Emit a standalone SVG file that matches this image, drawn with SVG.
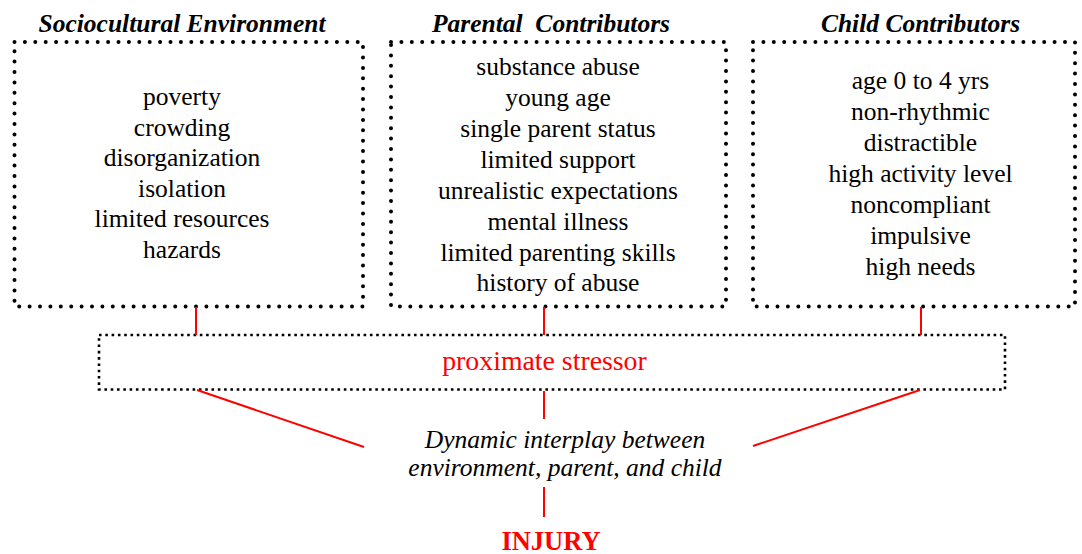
<svg xmlns="http://www.w3.org/2000/svg" width="1082" height="554" viewBox="0 0 1082 554">
<style>
.big{fill:none;stroke:#000;stroke-width:4;stroke-dasharray:0 10.4;stroke-linecap:round}
.small{fill:none;stroke:#000;stroke-width:2.6;stroke-dasharray:2.6 3.7}
.hd{font-family:"Liberation Serif","Times New Roman",serif;font-weight:bold;font-style:italic;font-size:25.5px;text-anchor:middle;fill:#000}
.bd{font-family:"Liberation Serif","Times New Roman",serif;font-size:25.5px;text-anchor:middle;fill:#000}
.con{stroke:#f00;stroke-width:2;fill:none}
</style>
<rect width="1082" height="554" fill="#fff"/>
<g id="socio">
<text class="hd" x="182" y="32">Sociocultural Environment</text>
<rect class="big" x="14.5" y="42" width="348.5" height="264.5"/>
<text class="bd" x="182" y="105">poverty</text>
<text class="bd" x="182" y="135.5">crowding</text>
<text class="bd" x="182" y="166">disorganization</text>
<text class="bd" x="182" y="196.5">isolation</text>
<text class="bd" x="182" y="227">limited resources</text>
<text class="bd" x="182" y="257.5">hazards</text>
</g>
<g id="parental">
<text class="hd" x="551" y="32" xml:space="preserve">Parental  Contributors</text>
<rect class="big" x="391" y="42" width="335" height="264.5"/>
<text class="bd" x="558" y="75">substance abuse</text>
<text class="bd" x="558" y="106">young age</text>
<text class="bd" x="558" y="137">single parent status</text>
<text class="bd" x="558" y="168">limited support</text>
<text class="bd" x="558" y="198.5">unrealistic expectations</text>
<text class="bd" x="558" y="229.5">mental illness</text>
<text class="bd" x="558" y="260.5">limited parenting skills</text>
<text class="bd" x="558" y="291">history of abuse</text>
</g>
<g id="child">
<text class="hd" x="920.5" y="32">Child Contributors</text>
<rect class="big" x="753" y="42" width="322" height="264.5"/>
<text class="bd" x="920.5" y="88.5">age 0 to 4 yrs</text>
<text class="bd" x="920.5" y="119.5">non-rhythmic</text>
<text class="bd" x="920.5" y="150.5">distractible</text>
<text class="bd" x="920.5" y="181.5">high activity level</text>
<text class="bd" x="920.5" y="212.5">noncompliant</text>
<text class="bd" x="920.5" y="243.5">impulsive</text>
<text class="bd" x="920.5" y="274.5">high needs</text>
</g>
<g id="stressor">
<rect class="small" x="99" y="335" width="906" height="54.5"/>
<text x="544.5" y="370" style="font-family:'Liberation Serif','Times New Roman',serif;font-size:27.8px;text-anchor:middle;fill:#f00">proximate stressor</text>
</g>
<g id="interplay">
<text x="565" y="448" style="font-family:'Liberation Serif','Times New Roman',serif;font-style:italic;font-size:25.5px;text-anchor:middle;fill:#000">Dynamic interplay between</text>
<text x="565" y="475.5" style="font-family:'Liberation Serif','Times New Roman',serif;font-style:italic;font-size:25.5px;text-anchor:middle;fill:#000">environment, parent, and child</text>
</g>
<g id="injury">
<text x="551" y="550" style="font-family:'Liberation Serif','Times New Roman',serif;font-weight:bold;font-size:26.5px;text-anchor:middle;fill:#f00">INJURY</text>
</g>
<g id="connectors">
<line class="con" x1="196" y1="307" x2="196" y2="335"/>
<line class="con" x1="544" y1="307" x2="544" y2="335"/>
<line class="con" x1="921" y1="307" x2="921" y2="335"/>
<line class="con" x1="197" y1="390" x2="364" y2="447"/>
<line class="con" x1="544" y1="391" x2="544" y2="419"/>
<line class="con" x1="920" y1="390" x2="753" y2="446"/>
<line class="con" x1="544" y1="487" x2="544" y2="517"/>
</g>
</svg>
